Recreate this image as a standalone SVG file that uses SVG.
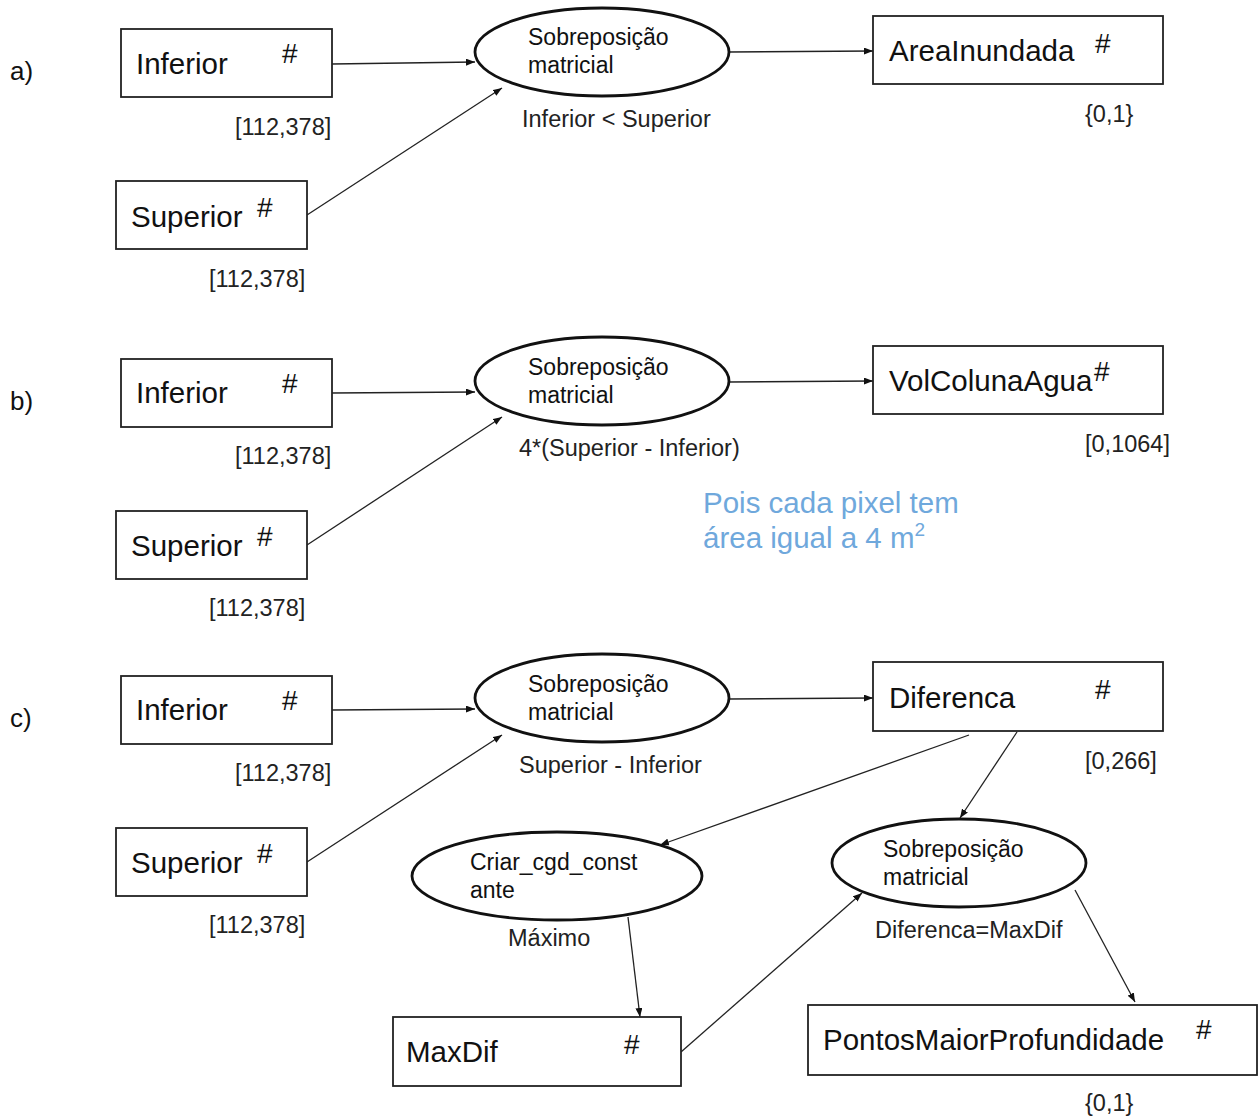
<svg xmlns="http://www.w3.org/2000/svg" width="1258" height="1118" viewBox="0 0 1258 1118">
<defs>
<marker id="arr" markerUnits="userSpaceOnUse" markerWidth="9" markerHeight="7" refX="9" refY="3.5" orient="auto">
<path d="M0,0 L9,3.5 L0,7 z" fill="#111"/>
</marker>
</defs>
<style>
.box{fill:#fff;stroke:#222;stroke-width:1.8}
.ell{fill:#fff;stroke:#111;stroke-width:2.8}
.nt{font-family:"Liberation Sans",Arial,sans-serif;font-size:29.5px;fill:#111}
.hs{font-family:"Liberation Sans",Arial,sans-serif;font-size:28px;fill:#111}
.et{font-family:"Liberation Sans",Arial,sans-serif;font-size:23px;fill:#111}
.lb{font-family:"Liberation Sans",Arial,sans-serif;font-size:23.5px;fill:#222}
.sec{font-family:"Liberation Sans",Arial,sans-serif;font-size:26px;fill:#111}
.note{font-family:"Liberation Sans",Arial,sans-serif;font-size:29.5px;fill:#6fa8dc}
.cn{fill:none;stroke:#222;stroke-width:1.3;marker-end:url(#arr)}
</style>
<rect width="1258" height="1118" fill="#fff"/>

<text class="sec" x="10" y="80">a)</text>
<text class="sec" x="10" y="410">b)</text>
<text class="sec" x="10" y="727">c)</text>

<g id="connectors">
<line class="cn" x1="332" y1="64" x2="475" y2="62"/>
<line class="cn" x1="307" y1="215" x2="502" y2="88"/>
<line class="cn" x1="729" y1="52" x2="873" y2="51"/>
<line class="cn" x1="332" y1="393" x2="475" y2="392"/>
<line class="cn" x1="307" y1="545" x2="502" y2="417"/>
<line class="cn" x1="729" y1="382" x2="873" y2="381"/>
<line class="cn" x1="332" y1="710" x2="475" y2="709"/>
<line class="cn" x1="307" y1="862" x2="502" y2="735"/>
<line class="cn" x1="729" y1="699" x2="873" y2="698"/>
<line class="cn" x1="969" y1="735" x2="660" y2="845"/>
<line class="cn" x1="1017" y1="732" x2="960" y2="818"/>
<line class="cn" x1="628" y1="917" x2="640" y2="1017"/>
<line class="cn" x1="681" y1="1052" x2="862" y2="893"/>
<line class="cn" x1="1075" y1="890" x2="1135" y2="1002"/>
</g>

<!-- a -->
<g id="a-inferior">
<rect class="box" x="121" y="29" width="211" height="68"/>
<text class="nt" x="136" y="74">Inferior</text>
<text class="hs" x="282" y="63">#</text>
<text class="lb" x="235" y="135">[112,378]</text>
</g>
<g id="a-superior">
<rect class="box" x="116" y="181" width="191" height="68"/>
<text class="nt" x="131" y="227">Superior</text>
<text class="hs" x="257" y="217">#</text>
<text class="lb" x="209" y="287">[112,378]</text>
</g>
<g id="a-sobreposicao">
<ellipse class="ell" cx="602" cy="52" rx="127" ry="44"/>
<text class="et" x="528" y="45">Sobreposição</text>
<text class="et" x="528" y="73">matricial</text>
<text class="lb" x="522" y="127">Inferior &lt; Superior</text>
</g>
<g id="a-areainundada">
<rect class="box" x="873" y="16" width="290" height="68"/>
<text class="nt" x="889" y="61">AreaInundada</text>
<text class="hs" x="1095" y="53">#</text>
<text class="lb" x="1085" y="122">{0,1}</text>
</g>

<!-- b -->
<g id="b-inferior">
<rect class="box" x="121" y="359" width="211" height="68"/>
<text class="nt" x="136" y="403">Inferior</text>
<text class="hs" x="282" y="393">#</text>
<text class="lb" x="235" y="464">[112,378]</text>
</g>
<g id="b-superior">
<rect class="box" x="116" y="511" width="191" height="68"/>
<text class="nt" x="131" y="556">Superior</text>
<text class="hs" x="257" y="546">#</text>
<text class="lb" x="209" y="616">[112,378]</text>
</g>
<g id="b-sobreposicao">
<ellipse class="ell" cx="602" cy="381" rx="127" ry="44"/>
<text class="et" x="528" y="375">Sobreposição</text>
<text class="et" x="528" y="403">matricial</text>
<text class="lb" x="519" y="456">4*(Superior - Inferior)</text>
</g>
<g id="b-volcolunaagua">
<rect class="box" x="873" y="346" width="290" height="68"/>
<text class="nt" x="889" y="391">VolColunaAgua</text>
<text class="hs" x="1094" y="381">#</text>
<text class="lb" x="1085" y="452">[0,1064]</text>
</g>
<g id="b-note">
<text class="note" x="703" y="513">Pois cada pixel tem</text>
<text class="note" x="703" y="548">área igual a 4 m<tspan font-size="19" dy="-12">2</tspan></text>
</g>

<!-- c -->
<g id="c-inferior">
<rect class="box" x="121" y="676" width="211" height="68"/>
<text class="nt" x="136" y="720">Inferior</text>
<text class="hs" x="282" y="710">#</text>
<text class="lb" x="235" y="781">[112,378]</text>
</g>
<g id="c-superior">
<rect class="box" x="116" y="828" width="191" height="68"/>
<text class="nt" x="131" y="873">Superior</text>
<text class="hs" x="257" y="863">#</text>
<text class="lb" x="209" y="933">[112,378]</text>
</g>
<g id="c-sobreposicao1">
<ellipse class="ell" cx="602" cy="698" rx="127" ry="44"/>
<text class="et" x="528" y="692">Sobreposição</text>
<text class="et" x="528" y="720">matricial</text>
<text class="lb" x="519" y="773">Superior - Inferior</text>
</g>
<g id="c-diferenca">
<rect class="box" x="873" y="662" width="290" height="69"/>
<text class="nt" x="889" y="708">Diferenca</text>
<text class="hs" x="1095" y="699">#</text>
<text class="lb" x="1085" y="769">[0,266]</text>
</g>
<g id="c-criar">
<ellipse class="ell" cx="557" cy="876" rx="145" ry="44"/>
<text class="et" x="470" y="870">Criar_cgd_const</text>
<text class="et" x="470" y="898">ante</text>
<text class="lb" x="508" y="946">Máximo</text>
</g>
<g id="c-sobreposicao2">
<ellipse class="ell" cx="959" cy="863" rx="127" ry="44"/>
<text class="et" x="883" y="857">Sobreposição</text>
<text class="et" x="883" y="885">matricial</text>
<text class="lb" x="875" y="938">Diferenca=MaxDif</text>
</g>
<g id="c-maxdif">
<rect class="box" x="393" y="1017" width="288" height="69"/>
<text class="nt" x="406" y="1062">MaxDif</text>
<text class="hs" x="624" y="1054">#</text>
</g>
<g id="c-pontos">
<rect class="box" x="808" y="1005" width="449" height="70"/>
<text class="nt" x="823" y="1050">PontosMaiorProfundidade</text>
<text class="hs" x="1196" y="1039">#</text>
<text class="lb" x="1085" y="1111">{0,1}</text>
</g>
</svg>
